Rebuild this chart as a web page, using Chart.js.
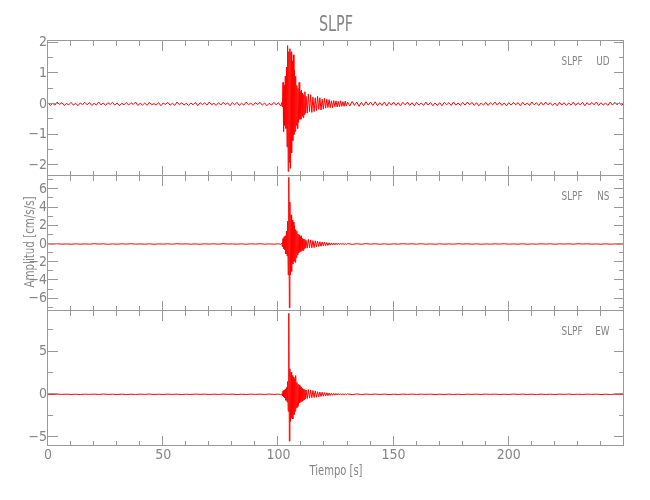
<!DOCTYPE html>
<html><head><meta charset="utf-8">
<script src="https://cdn.jsdelivr.net/npm/chart.js@4.4.1/dist/chart.umd.min.js"></script>
<style>
html,body{margin:0;padding:0;background:#fff;}
#wrap{position:relative;width:650px;height:500px;background:#fff;}
#wrap canvas{position:absolute;left:0;top:0;}
</style></head><body>
<div id="wrap">
<canvas id="c1" width="650" height="500"></canvas>
<canvas id="c2" width="650" height="500"></canvas>
<canvas id="c3" width="650" height="500"></canvas>
</div>
<script>
// ---------------- data ----------------
const stationName = 'SLPF';
const componentNames = ['UD', 'NS', 'EW'];
const xTickLabels = [0, 50, 100, 150, 200];
const udTickLabels = [2, 1, 0, -1, -2];
const nsTickLabels = [6, 4, 2, 0, -2, -4, -6];
const ewTickLabels = [5, 0, -5];
const udRange = [-2.35, 2.05];
const nsRange = [-7.35, 7.46];
const ewRange = [-6.07, 9.78];
const timeRange = [0, 250];

// time samples (s)
const timePre = [0,2,4,6,8,10,12,14,16,18,20,22,24,26,28,30,32,34,36,38,40,42,44,46,48,50,52,54,56,58,60,62,64,66,68,70,72,74,76,78,80,82,84,86,88,90,92,94,96,98,100,101];
const timeEvent = [101.5,101.75,102,102.25,102.5,102.75,103,103.25,103.5,103.75,104,104.25,104.5,104.75,105,105.25,105.5,105.75,106,106.25,106.5,106.75,107,107.25,107.5,107.75,108,108.25,108.5,108.75,109,109.25,109.5,109.75,110,110.25,110.5,110.75,111,111.25,111.5,111.75,112];
const timeCoda = [112.5,113,113.5,114,114.5,115,115.5,116,116.5,117,117.5,118,118.5,119,119.5,120,120.5,121,121.5,122,122.5,123,123.5,124,124.5,125,125.5,126,126.5,127,127.5,128,128.5,129,129.5,130];
const timePost = [132,134,136,138,140,142,144,146,148,150,152,154,156,158,160,162,164,166,168,170,172,174,176,178,180,182,184,186,188,190,192,194,196,198,200,202,204,206,208,210,212,214,216,218,220,222,224,226,228,230,232,234,236,238,240,242,244,246,248,250];
// denser noise sampling for the UD trace
const udTimePre = [0,1,2,3,4,5,6,7,8,9,10,11,12,13,14,15,16,17,18,19,20,21,22,23,24,25,26,27,28,29,30,31,32,33,34,35,36,37,38,39,40,41,42,43,44,45,46,47,48,49,50,51,52,53,54,55,56,57,58,59,60,61,62,63,64,65,66,67,68,69,70,71,72,73,74,75,76,77,78,79,80,81,82,83,84,85,86,87,88,89,90,91,92,93,94,95,96,97,98,99,100,101];
const udTimePost = [131,132,133,134,135,136,137,138,139,140,141,142,143,144,145,146,147,148,149,150,151,152,153,154,155,156,157,158,159,160,161,162,163,164,165,166,167,168,169,170,171,172,173,174,175,176,177,178,179,180,181,182,183,184,185,186,187,188,189,190,191,192,193,194,195,196,197,198,199,200,201,202,203,204,205,206,207,208,209,210,211,212,213,214,215,216,217,218,219,220,221,222,223,224,225,226,227,228,229,230,231,232,233,234,235,236,237,238,239,240,241,242,243,244,245,246,247,248,249,250];

// UD component (cm/s/s)
const udPre = [0.03,-0.05,0.02,-0.04,0.06,-0.02,0.04,-0.05,0.01,-0.03,0.05,-0.04,0.02,-0.06,0.03,-0.02,0.05,-0.03,0.04,-0.05,0.02,-0.04,0.06,-0.03,0.03,-0.05,0.04,-0.02,0.05,-0.04,0.03,-0.06,0.02,-0.03,0.05,-0.04,0.04,-0.02,0.06,-0.05,0.02,-0.04,0.03,-0.05,0.05,-0.03,0.01,-0.04,0.04,-0.06,0.03,-0.02,0.05,-0.04,0.02,-0.05,0.06,-0.03,0.04,-0.04,0.02,-0.05,0.03,-0.03,0.05,-0.06,0.04,-0.02,0.03,-0.04,0.06,-0.03,0.02,-0.05,0.04,-0.04,0.05,-0.02,0.03,-0.06,0.04,-0.03,0.05,-0.05,0.02,-0.04,0.06,-0.03,0.03,-0.05,0.04,-0.02,0.05,-0.04,0.03,-0.06,0.02,-0.04,0.05,-0.03,0.04,-0.07];
const udEvent = [0.05,-0.1,0.7,-0.9,0.6,-0.7,0.9,-0.8,1.2,-1.4,1.9,-2.2,1.7,-1.9,1.8,-2.1,1.7,-1.6,1.4,-1.2,1.6,-1.0,1.1,-0.9,0.9,-0.7,0.6,-0.8,0.5,-0.6,0.7,-0.5,0.4,-0.5,0.45,-0.4,0.35,-0.45,0.3,-0.35,0.4,-0.3,0.25];
const udCoda = [-0.3,0.32,-0.25,0.3,-0.28,0.22,-0.25,0.2,-0.22,0.25,-0.18,0.2,-0.2,0.15,-0.17,0.18,-0.14,0.15,-0.12,0.14,-0.12,0.1,-0.12,0.11,-0.09,0.1,-0.1,0.08,-0.09,0.1,-0.08,0.07,-0.08,0.09,-0.07,0.06];
const udPost = [-0.07,0.08,-0.05,0.06,-0.08,0.05,-0.06,0.07,-0.04,0.06,-0.05,0.07,-0.06,0.04,-0.05,0.06,-0.07,0.05,-0.04,0.06,-0.05,0.04,-0.06,0.05,-0.03,0.06,-0.05,0.04,-0.06,0.05,-0.04,0.03,-0.05,0.06,-0.04,0.05,-0.06,0.03,-0.05,0.04,-0.06,0.05,-0.03,0.04,-0.05,0.06,-0.04,0.03,-0.05,0.05,-0.04,0.06,-0.03,0.05,-0.05,0.04,-0.06,0.03,-0.04,0.05,-0.05,0.04,-0.03,0.06,-0.04,0.05,-0.05,0.03,-0.06,0.04,-0.04,0.05,-0.03,0.04,-0.06,0.05,-0.04,0.03,-0.05,0.06,-0.03,0.04,-0.05,0.05,-0.04,0.06,-0.03,0.04,-0.05,0.03,-0.06,0.05,-0.04,0.04,-0.05,0.03,-0.04,0.06,-0.05,0.04,-0.03,0.05,-0.06,0.04,-0.04,0.05,-0.03,0.06,-0.05,0.04,-0.04,0.03,-0.05,0.06,-0.04,0.05,-0.03,0.04,-0.05,0.04];

// NS component
const nsPre = [0.02,-0.01,0.03,-0.02,0.01,-0.03,0.02,-0.02,0.01,-0.02,0.03,-0.01,0.02,-0.03,0.01,-0.02,0.02,-0.01,0.03,-0.02,0.01,-0.02,0.02,-0.03,0.01,-0.01,0.02,-0.02,0.03,-0.01,0.02,-0.02,0.01,-0.03,0.02,-0.01,0.02,-0.02,0.03,-0.01,0.01,-0.02,0.02,-0.03,0.02,-0.01,0.03,-0.02,0.01,-0.02,0.02,-0.04];
const nsEvent = [0.1,-0.3,0.6,-0.5,0.8,-0.6,0.9,-1.1,1.4,-1.3,2.5,-3.4,7.3,-7.0,4.6,-3.4,3.2,-3.0,2.6,-2.2,2.4,-1.9,2.0,-2.0,1.6,-1.5,1.4,-1.2,1.1,-1.0,1.0,-0.9,0.8,-0.8,0.9,-0.7,0.6,-0.7,0.55,-0.5,0.5,-0.45,0.4];
const nsCoda = [-0.45,0.5,-0.4,0.45,-0.42,0.38,-0.4,0.35,-0.3,0.32,-0.28,0.25,-0.25,0.22,-0.2,0.2,-0.18,0.15,-0.16,0.14,-0.12,0.12,-0.1,0.11,-0.09,0.1,-0.08,0.08,-0.07,0.08,-0.06,0.06,-0.06,0.05,-0.05,0.05];
const nsPost = [-0.04,0.03,-0.03,0.04,-0.02,0.03,-0.03,0.02,-0.03,0.02,-0.02,0.03,-0.01,0.02,-0.02,0.03,-0.02,0.01,-0.03,0.02,-0.02,0.01,-0.02,0.03,-0.01,0.02,-0.02,0.02,-0.03,0.01,-0.02,0.02,-0.01,0.03,-0.02,0.01,-0.02,0.02,-0.03,0.01,-0.02,0.02,-0.01,0.02,-0.03,0.02,-0.01,0.02,-0.02,0.03,-0.01,0.02,-0.02,0.01,-0.03,0.02,-0.02,0.01,-0.02,0.02];

// EW component
const ewPre = [0.01,-0.02,0.03,-0.01,0.02,-0.02,0.01,-0.03,0.02,-0.01,0.02,-0.02,0.03,-0.01,0.01,-0.02,0.02,-0.03,0.01,-0.02,0.02,-0.01,0.03,-0.02,0.01,-0.02,0.02,-0.01,0.02,-0.03,0.01,-0.02,0.03,-0.01,0.02,-0.02,0.01,-0.02,0.03,-0.01,0.02,-0.03,0.01,-0.02,0.02,-0.01,0.02,-0.02,0.03,-0.01,0.02,-0.04];
const ewEvent = [0.05,-0.2,0.4,-0.3,0.5,-0.4,0.6,-0.7,0.8,-0.9,1.5,-2.0,9.5,-5.5,3.0,-3.2,2.6,-2.8,2.2,-2.9,2.0,-2.4,1.8,-2.0,2.2,-1.6,1.4,-1.5,1.2,-1.3,1.1,-1.0,0.9,-0.9,0.8,-0.8,0.7,-0.7,0.6,-0.6,0.55,-0.5,0.5];
const ewCoda = [-0.5,0.55,-0.45,0.5,-0.4,0.45,-0.38,0.4,-0.35,0.3,-0.3,0.28,-0.25,0.24,-0.22,0.2,-0.2,0.18,-0.16,0.15,-0.14,0.13,-0.12,0.12,-0.1,0.1,-0.09,0.09,-0.08,0.07,-0.07,0.06,-0.06,0.05,-0.05,0.05];
const ewPost = [-0.04,0.04,-0.03,0.03,-0.02,0.03,-0.02,0.02,-0.03,0.01,-0.02,0.02,-0.01,0.03,-0.02,0.02,-0.01,0.02,-0.03,0.01,-0.02,0.02,-0.02,0.01,-0.03,0.02,-0.01,0.02,-0.02,0.03,-0.01,0.02,-0.02,0.01,-0.02,0.03,-0.01,0.02,-0.02,0.01,-0.03,0.02,-0.02,0.01,-0.02,0.02,-0.01,0.03,-0.02,0.01,-0.02,0.02,-0.01,0.02,-0.03,0.01,-0.02,0.02,-0.01,0.02];

// ---------------- layout & style ----------------
const PLOT_LEFT = 48, PLOT_RIGHT = 624;
const panelEdges = [41, 176, 311, 446];
const AXIS = '#999999', TEXT = '#858585', TRACE = '#ff0000';
const FONT = "'Liberation Sans Narrow','DejaVu Sans Condensed','Liberation Sans',sans-serif";
const X_AXIS_H = 26;

function toPoints(tSegs, vSegs) {
  const out = [];
  for (let s = 0; s < tSegs.length; s++) {
    const t = tSegs[s], v = vSegs[s];
    const n = Math.min(t.length, v.length);
    for (let i = 0; i < n; i++) out.push({x: t[i], y: v[i]});
  }
  return out;
}

const panels = [
  {id: 'c1', pts: toPoints([udTimePre, timeEvent, timeCoda, udTimePost], [udPre, udEvent, udCoda, udPost]), range: udRange, ticks: udTickLabels, major: 1, minor: 0.5, comp: componentNames[0]},
  {id: 'c2', pts: toPoints([timePre, timeEvent, timeCoda, timePost], [nsPre, nsEvent, nsCoda, nsPost]), range: nsRange, ticks: nsTickLabels, major: 2, minor: 1, comp: componentNames[1]},
  {id: 'c3', pts: toPoints([timePre, timeEvent, timeCoda, timePost], [ewPre, ewEvent, ewCoda, ewPost]), range: ewRange, ticks: ewTickLabels, major: 5, minor: 2.5, comp: componentNames[2]}
];

function drawText(ctx, str, x, y, size, align, targetW, rot) {
  ctx.save();
  ctx.font = size + 'px ' + FONT;
  const w = ctx.measureText(str).width;
  const sx = targetW ? targetW / w : 1;
  ctx.translate(x, y);
  if (rot) ctx.rotate(rot);
  ctx.scale(sx, 1);
  ctx.fillStyle = TEXT;
  ctx.textAlign = align;
  ctx.textBaseline = 'middle';
  ctx.fillText(str, 0, 0);
  ctx.restore();
  return sx;
}

const framePlugin = {
  id: 'frame',
  afterDraw(chart) {
    const {ctx, chartArea: a, scales: {x, y}} = chart;
    const p = panels.find(q => q.id === chart.canvas.id);
    if (!p) return;
    ctx.save();
    ctx.strokeStyle = AXIS;
    ctx.lineWidth = 1;
    ctx.strokeRect(a.left - 0.5, a.top - 0.5, a.right - a.left, a.bottom - a.top);
    ctx.beginPath();
    for (let k = Math.ceil(x.min / 10); k <= Math.floor(x.max / 10); k++) {
      const v = k * 10;
      const len = (v % 50 === 0) ? 10 : 5;
      const px = Math.round(x.getPixelForValue(v)) - 0.5;
      ctx.moveTo(px, a.bottom); ctx.lineTo(px, a.bottom - len);
      ctx.moveTo(px, a.top); ctx.lineTo(px, a.top + len);
    }
    for (let k = Math.ceil(y.min / p.minor - 1e-9); k <= Math.floor(y.max / p.minor + 1e-9); k++) {
      const v = k * p.minor;
      const r = v / p.major;
      const len = Math.abs(r - Math.round(r)) < 1e-6 ? 10 : 5;
      const py = Math.round(y.getPixelForValue(v)) - 0.5;
      ctx.moveTo(a.left, py); ctx.lineTo(a.left + len, py);
      ctx.moveTo(a.right, py); ctx.lineTo(a.right - len, py);
    }
    ctx.stroke();
    ctx.restore();
    const ly = a.top + 20.5;
    const sx = drawText(ctx, stationName, 582.5, ly, 13, 'right', 21);
    ctx.save();
    ctx.font = '13px ' + FONT;
    const cw = ctx.measureText(p.comp).width * sx;
    ctx.restore();
    drawText(ctx, p.comp, 609.5, ly, 13, 'right', cw);
  }
};

const textPlugin = {
  id: 'texts',
  afterDraw(chart) {
    const ctx = chart.ctx;
    drawText(ctx, stationName, 336, 26, 21, 'center', 34);
    drawText(ctx, 'Tiempo [s]', 336, 471, 14, 'center', 53);
    drawText(ctx, 'Amplitud [cm/s/s]', 30, 242, 14, 'center', 91, -Math.PI / 2);
  }
};

const fmt = v => String(v).replace('-', '\u2212');

panels.forEach((p, i) => {
  const isBottom = i === panels.length - 1;
  const top = panelEdges[i], bottom = panelEdges[i + 1];
  const ctx = document.getElementById(p.id).getContext('2d');
  new Chart(ctx, {
    type: 'line',
    data: {datasets: [{data: p.pts, borderColor: TRACE, borderWidth: 1, pointRadius: 0, tension: 0, fill: false}]},
    options: {
      responsive: false, animation: false, devicePixelRatio: 1, events: [],
      plugins: {legend: {display: false}, tooltip: {enabled: false}, title: {display: false}},
      layout: {padding: {left: 0, right: 650 - PLOT_RIGHT, top: top, bottom: isBottom ? 500 - bottom - X_AXIS_H : 500 - bottom}},
      scales: {
        x: {
          type: 'linear', min: timeRange[0], max: timeRange[1], display: isBottom,
          grid: {display: false, drawTicks: false, tickLength: 0}, border: {display: false},
          afterBuildTicks: s => { s.ticks = xTickLabels.map(v => ({value: v})); },
          afterFit: s => { if (isBottom) s.height = X_AXIS_H; s.paddingLeft = 0; s.paddingRight = 0; },
          ticks: {color: TEXT, font: {family: FONT, size: 14}, padding: 1, maxRotation: 0, autoSkip: false, callback: fmt}
        },
        y: {
          type: 'linear', min: p.range[0], max: p.range[1],
          grid: {display: false, drawTicks: false, tickLength: 0}, border: {display: false},
          afterBuildTicks: s => { s.ticks = p.ticks.map(v => ({value: v})); },
          afterFit: s => { s.width = PLOT_LEFT; s.paddingTop = 0; s.paddingBottom = 0; },
          ticks: {color: TEXT, font: {family: FONT, size: 14}, padding: 1, autoSkip: false, callback: fmt}
        }
      }
    },
    plugins: i === 0 ? [framePlugin, textPlugin] : [framePlugin]
  });
});
</script>
</body></html>
